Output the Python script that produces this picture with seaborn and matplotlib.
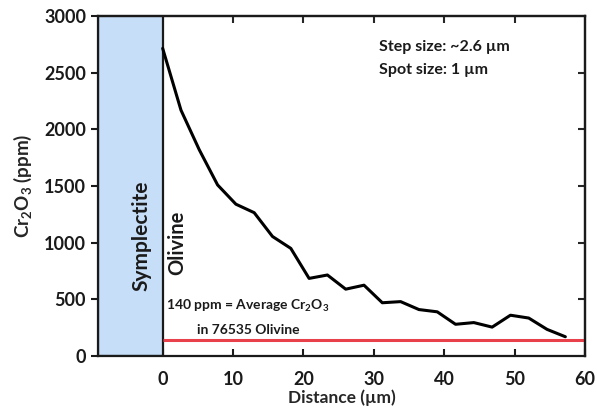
import matplotlib
matplotlib.use("Agg")
import matplotlib.pyplot as plt
import seaborn as sns
import numpy as np
import pandas as pd

# Data
distance_um = [0, 2.6, 5.2, 7.8, 10.4, 13.0, 15.6, 18.2, 20.8, 23.4, 26.0, 28.6,
               31.2, 33.8, 36.4, 39.0, 41.6, 44.2, 46.8, 49.4, 52.0, 54.6, 57.2]
cr2o3_ppm = [2715, 2170, 1820, 1510, 1340, 1265, 1055, 950, 685, 715, 590, 625,
             470, 480, 410, 390, 280, 295, 255, 360, 335, 235, 170]
avg_olivine_ppm = 140
symplectite_range = (-9.2, 0)
x_ticks = [0, 10, 20, 30, 40, 50, 60]
y_ticks = [0, 500, 1000, 1500, 2000, 2500, 3000]

df = pd.DataFrame({"Distance": distance_um, "Cr2O3": cr2o3_ppm})

sns.set_style("ticks")
plt.rcParams["font.family"] = ["Lato", "DejaVu Sans"]
plt.rcParams["font.weight"] = "bold"
plt.rcParams["mathtext.fontset"] = "custom"
plt.rcParams["mathtext.rm"] = "Lato:bold"
plt.rcParams["mathtext.it"] = "Lato:bold"
plt.rcParams["mathtext.bf"] = "Lato:bold"
plt.rcParams["mathtext.default"] = "rm"

fig = plt.figure(figsize=(5.97, 4.13), dpi=100)
ax = fig.add_axes([0.164, 0.138, 0.816, 0.823])

ax.axvspan(symplectite_range[0], symplectite_range[1], ymin=0, ymax=1,
           facecolor="#c6def7", edgecolor="#1a1a1a", lw=1.6, zorder=1)
ax.hlines(avg_olivine_ppm, symplectite_range[1], 60, color="#e8414b", lw=2.2, zorder=2)

sns.lineplot(data=df, x="Distance", y="Cr2O3", ax=ax, color="black", lw=2.2,
             zorder=3, legend=False)

ax.set_xlim(symplectite_range[0], 59.6)
ax.set_ylim(0, 3000)
ax.set_xticks(x_ticks)
ax.set_yticks(y_ticks)
ax.tick_params(axis="x", direction="in", length=5, width=1.5, labelsize=13,
               pad=11, colors="#1a1a1a")
ax.tick_params(axis="y", direction="out", length=5, width=1.5, labelsize=13,
               colors="#1a1a1a")
for lab in ax.get_xticklabels() + ax.get_yticklabels():
    lab.set_fontweight("bold")

for s in ax.spines.values():
    s.set_visible(True)
    s.set_linewidth(1.6)
    s.set_color("#1a1a1a")

secx = ax.secondary_xaxis("top")
secx.set_xticks(x_ticks[1:-1])
secx.tick_params(direction="in", length=5, width=1.5, labeltop=False)
secy = ax.secondary_yaxis("right")
secy.set_yticks(y_ticks[1:-1])
secy.tick_params(direction="in", length=5, width=1.5, labelright=False)
for s in list(secx.spines.values()) + list(secy.spines.values()):
    s.set_linewidth(1.6)

ax.set_xlabel("Distance (\u00b5m)", fontsize=12.5, fontweight="bold", labelpad=1)
ax.set_ylabel("Cr$_2$O$_3$ (ppm)", fontsize=13.5, fontweight="bold", labelpad=7)

ax.text(-3.0, 1063, "Symplectite", rotation=90, ha="center", va="center",
        fontsize=15, fontweight="bold", color="#1a1a1a")
ax.text(2.0, 1000, "Olivine", rotation=90, ha="center", va="center",
        fontsize=14.5, fontweight="bold", color="#1a1a1a")
ax.text(0.5, 440, "140 ppm = Average Cr$_2$O$_3$", ha="left", va="center",
        fontsize=10, fontweight="bold", color="#1a1a1a")
ax.text(12.2, 230, "in 76535 Olivine", ha="center", va="center",
        fontsize=10, fontweight="bold", color="#1a1a1a")
ax.text(30.7, 2730, "Step size: ~2.6 \u00b5m", ha="left", va="center",
        fontsize=11.5, fontweight="bold", color="#1a1a1a")
ax.text(30.7, 2520, "Spot size: 1 \u00b5m", ha="left", va="center",
        fontsize=11.5, fontweight="bold", color="#1a1a1a")

fig.savefig("out.png", dpi=100)
